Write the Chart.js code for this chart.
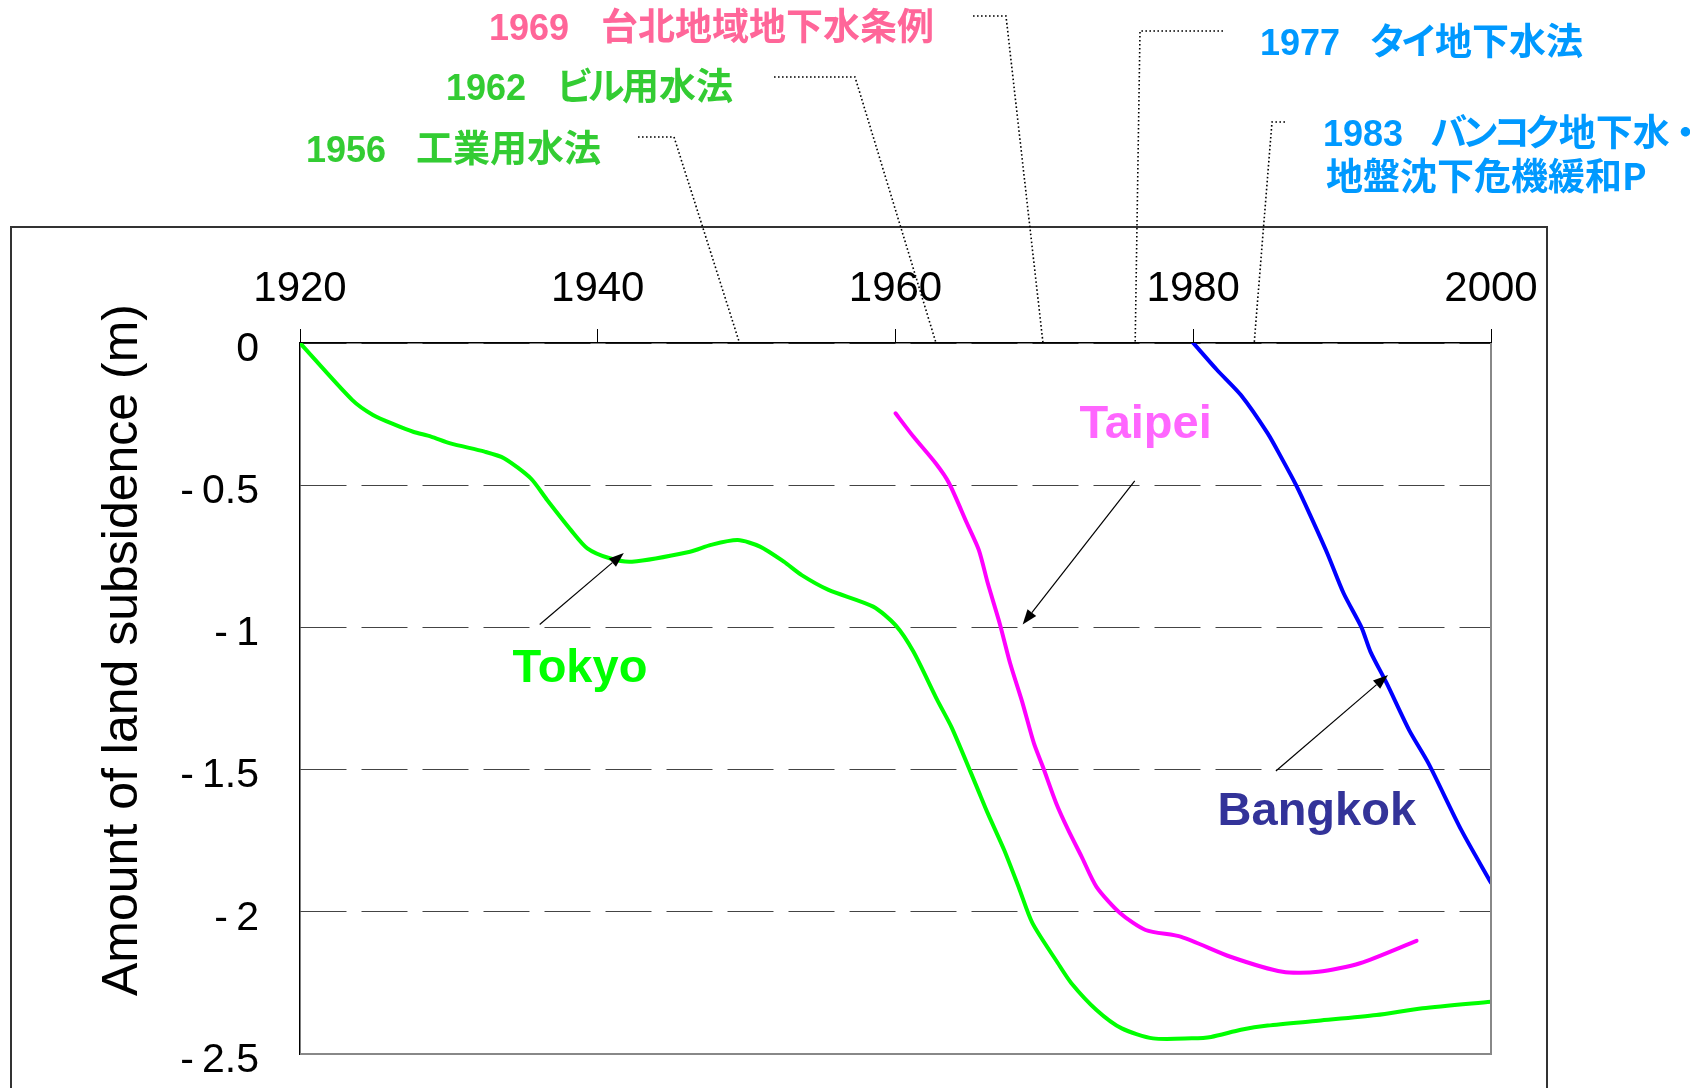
<!DOCTYPE html>
<html>
<head>
<meta charset="utf-8">
<script src="https://cdn.jsdelivr.net/npm/chart.js@4.4.0/dist/chart.umd.min.js"></script>
<style>
  html, body { margin: 0; padding: 0; background: #fff; }
  #wrap { width: 1690px; height: 1088px; }
</style>
</head>
<body>
<div id="wrap"><canvas id="chart" width="1690" height="1088"></canvas></div>
<script>
// values: year -> land subsidence (m)
const tokyoYears = [1920, 1923.5, 1924.9, 1926.4, 1927.6, 1928.8, 1930.1, 1932.4, 1933.7, 1935.5, 1936.6, 1938.2, 1939.3, 1940.8, 1942.3, 1946.2, 1947.6, 1949.4, 1950.9, 1952.5, 1953.7, 1955.5, 1958.5, 1960, 1961.2, 1962.8, 1963.8, 1965.5, 1966.2, 1967.3, 1968.3, 1969.2, 1970.9, 1971.8, 1973.5, 1975.2, 1977.3, 1979.9, 1981.2, 1983.2, 1985, 1988.4, 1992.3, 1995.4, 2000];
const tokyoValues = [0, -0.2, -0.253, -0.288, -0.312, -0.329, -0.353, -0.382, -0.405, -0.476, -0.552, -0.658, -0.722, -0.757, -0.769, -0.734, -0.71, -0.693, -0.716, -0.769, -0.816, -0.868, -0.927, -0.992, -1.085, -1.255, -1.355, -1.566, -1.654, -1.783, -1.917, -2.04, -2.18, -2.25, -2.345, -2.41, -2.445, -2.445, -2.44, -2.415, -2.4, -2.383, -2.363, -2.339, -2.316];

const taipeiYears = [1960, 1961.2, 1962.7, 1963.6, 1964.8, 1965.6, 1966.2, 1967, 1967.7, 1968.5, 1969.3, 1969.9, 1970.8, 1971.6, 1972.5, 1973.5, 1975.1, 1976.8, 1979.2, 1982.5, 1986, 1988.4, 1991.2, 1995];
const taipeiValues = [-0.247, -0.329, -0.423, -0.493, -0.634, -0.728, -0.845, -0.986, -1.126, -1.26, -1.408, -1.49, -1.619, -1.712, -1.806, -1.912, -2.005, -2.064, -2.088, -2.158, -2.211, -2.211, -2.181, -2.102];

const bangkokYears = [1980, 1981.6, 1983.2, 1985, 1986, 1986.9, 1987.8, 1989, 1990.1, 1991.3, 1991.9, 1993, 1994.5, 1995.8, 1998, 2000];
const bangkokValues = [0, -0.095, -0.183, -0.318, -0.411, -0.499, -0.599, -0.739, -0.88, -1.0, -1.085, -1.197, -1.361, -1.478, -1.712, -1.898];

const xTicks = [1920, 1940, 1960, 1980, 2000];
const yTicks = [0, -0.5, -1, -1.5, -2, -2.5];
const yTitle = 'Amount of land subsidence (m)';

// labels and arrows inside the plot (data units)
const cityLabels = [
  { text: 'Tokyo', year: 1938.8, value: -1.192, color: '#00ff00' },
  { text: 'Taipei', year: 1976.8, value: -0.334, color: '#ff66ff' },
  { text: 'Bangkok', year: 1988.3, value: -1.695, color: '#333399' },
];
const arrows = [
  { from: [1936.1, -0.99], to: [1941.75, -0.738] },
  { from: [1976.07, -0.485], to: [1968.54, -0.99] },
  { from: [1985.55, -1.505], to: [1993.08, -1.167] },
];

// law notes above the plot; the dotted leader ends on the top axis at `hit`
const lawNotes = [
  { year: '1969', text: ['台北地域地下水条例'], color: '#ff6699', x: 489, tx: 601, base: 40, leader: [[973, 16], [1006, 16]], hit: 1969.9 },
  { year: '1962', text: ['ビル用水法'], color: '#33cc33', x: 446, tx: 559, base: 100, leader: [[774, 77], [855, 77]], hit: 1962.7 },
  { year: '1956', text: ['工業用水法'], color: '#33cc33', x: 306, tx: 416, base: 162, leader: [[638, 137], [674, 137]], hit: 1949.5 },
  { year: '1977', text: ['タイ地下水法'], color: '#0099ff', x: 1260, tx: 1372, base: 55, leader: [[1223, 31], [1140, 31]], hit: 1976.1 },
  { year: '1983', text: ['バンコク地下水・', '地盤沈下危機緩和P'], color: '#0099ff', x: 1323, tx: 1433, base: 146, leader: [[1285, 122], [1272, 122]], hit: 1984.1 },
];

const toPts = (xs, ys) => xs.map((x, i) => ({ x: x, y: ys[i] }));

function drawJP(ctx, str, x, y) {
  // katakana set narrower, like the proportional font of the original
  for (const ch of str) {
    const w = ctx.measureText(ch).width;
    const adv = /[\u30A0-\u30FF]/.test(ch) ? w * 0.85 : w;
    ctx.fillText(ch, x - (w - adv) / 2, y);
    x += adv;
  }
}

const decorations = {
  id: 'decorations',
  beforeDraw(chart) {
    const ctx = chart.ctx;
    ctx.save();
    ctx.fillStyle = '#fff';
    ctx.fillRect(0, 0, chart.width, chart.height);
    ctx.strokeStyle = '#333';
    ctx.lineWidth = 2;
    ctx.strokeRect(11, 227, 1536, 900);
    ctx.restore();
  },
  afterDraw(chart) {
    const ctx = chart.ctx;
    const xs = chart.scales.x, ys = chart.scales.y;
    const area = chart.chartArea;
    ctx.save();

    // right and bottom frame of the plot
    ctx.strokeStyle = '#888';
    ctx.lineWidth = 2;
    ctx.beginPath();
    ctx.moveTo(area.right, area.top);
    ctx.lineTo(area.right, area.bottom);
    ctx.lineTo(area.left, area.bottom);
    ctx.stroke();

    // y axis title
    ctx.save();
    ctx.translate(137, 650);
    ctx.rotate(-Math.PI / 2);
    ctx.fillStyle = '#000';
    ctx.font = '50px "Liberation Sans"';
    ctx.textAlign = 'center';
    ctx.textBaseline = 'alphabetic';
    ctx.fillText(yTitle, 0, 0);
    ctx.restore();

    // arrows
    ctx.strokeStyle = '#000';
    ctx.fillStyle = '#000';
    ctx.lineWidth = 1.2;
    arrows.forEach(a => {
      const x1 = xs.getPixelForValue(a.from[0]), y1 = ys.getPixelForValue(a.from[1]);
      const x2 = xs.getPixelForValue(a.to[0]), y2 = ys.getPixelForValue(a.to[1]);
      const ang = Math.atan2(y2 - y1, x2 - x1);
      const len = 15, half = 5.5;
      const bx = x2 - len * Math.cos(ang), by = y2 - len * Math.sin(ang);
      ctx.beginPath();
      ctx.moveTo(x1, y1);
      ctx.lineTo(bx, by);
      ctx.stroke();
      ctx.beginPath();
      ctx.moveTo(x2, y2);
      ctx.lineTo(bx + half * Math.sin(ang), by - half * Math.cos(ang));
      ctx.lineTo(bx - half * Math.sin(ang), by + half * Math.cos(ang));
      ctx.closePath();
      ctx.fill();
    });

    // city labels
    ctx.font = 'bold 47px "Liberation Sans"';
    ctx.textAlign = 'center';
    ctx.textBaseline = 'alphabetic';
    cityLabels.forEach(l => {
      ctx.fillStyle = l.color;
      ctx.fillText(l.text, xs.getPixelForValue(l.year), ys.getPixelForValue(l.value));
    });

    // dotted leaders
    ctx.strokeStyle = '#000';
    ctx.lineWidth = 1.6;
    ctx.setLineDash([1.6, 2.4]);
    lawNotes.forEach(n => {
      ctx.beginPath();
      ctx.moveTo(n.leader[0][0], n.leader[0][1]);
      ctx.lineTo(n.leader[1][0], n.leader[1][1]);
      ctx.lineTo(xs.getPixelForValue(n.hit), area.top - 1);
      ctx.stroke();
    });
    ctx.setLineDash([]);

    // law notes text
    ctx.textAlign = 'left';
    lawNotes.forEach(n => {
      ctx.fillStyle = n.color;
      ctx.font = 'bold 36px "Liberation Sans"';
      ctx.fillText(n.year, n.x, n.base);
      ctx.font = 'bold 37px "Noto Sans CJK JP"';
      n.text.forEach((t, i) => {
        const x = i === 0 ? n.tx : n.x + 3;
        drawJP(ctx, t, x, n.base + i * 44);
      });
    });

    ctx.restore();
  }
};

Chart.defaults.font.family = '"Liberation Sans", Arial, sans-serif';
Chart.defaults.color = '#000';

new Chart(document.getElementById('chart'), {
  type: 'line',
  data: {
    datasets: [
      { label: 'Tokyo', data: toPts(tokyoYears, tokyoValues), borderColor: '#00ff00' },
      { label: 'Taipei', data: toPts(taipeiYears, taipeiValues), borderColor: '#ff00ff' },
      { label: 'Bangkok', data: toPts(bangkokYears, bangkokValues), borderColor: '#0000ff' },
    ]
  },
  options: {
    responsive: false,
    animation: false,
    devicePixelRatio: 1,
    layout: { padding: { left: 0, top: 0, right: 199, bottom: 34 } },
    elements: {
      line: { borderWidth: 4, tension: 0.25, fill: false, borderCapStyle: 'round', borderJoinStyle: 'round' },
      point: { radius: 0 }
    },
    plugins: { legend: { display: false }, tooltip: { enabled: false } },
    scales: {
      x: {
        type: 'linear',
        position: 'top',
        min: 1920,
        max: 2000,
        afterBuildTicks: s => { s.ticks = xTicks.map(v => ({ value: v })); },
        afterFit: s => { s.height = 343; s.paddingLeft = 0; s.paddingRight = 0; },
        ticks: {
          font: { size: 42 },
          color: '#000',
          padding: 14,
          autoSkip: false,
          maxRotation: 0,
          callback: v => String(v)
        },
        grid: { drawOnChartArea: false, drawTicks: true, tickLength: 14, tickColor: '#000', tickWidth: 1 },
        border: { display: true, color: '#000', width: 1.5 }
      },
      y: {
        type: 'linear',
        min: -2.5,
        max: 0,
        afterBuildTicks: s => { s.ticks = yTicks.map(v => ({ value: v })); },
        afterFit: s => { s.width = 300; s.paddingTop = 0; s.paddingBottom = 0; },
        ticks: {
          // empty first line with a small line height drops each label a few px
          font: { size: 41, lineHeight: 0.32 },
          color: '#000',
          padding: 41,
          autoSkip: false,
          callback: v => ['', String(v).replace('-', '-\u2009')]
        },
        grid: { color: '#444', lineWidth: 1, drawTicks: false },
        border: { display: true, color: '#000', width: 1.5, dash: [46, 15] }
      }
    }
  },
  plugins: [decorations]
});
</script>
</body>
</html>
